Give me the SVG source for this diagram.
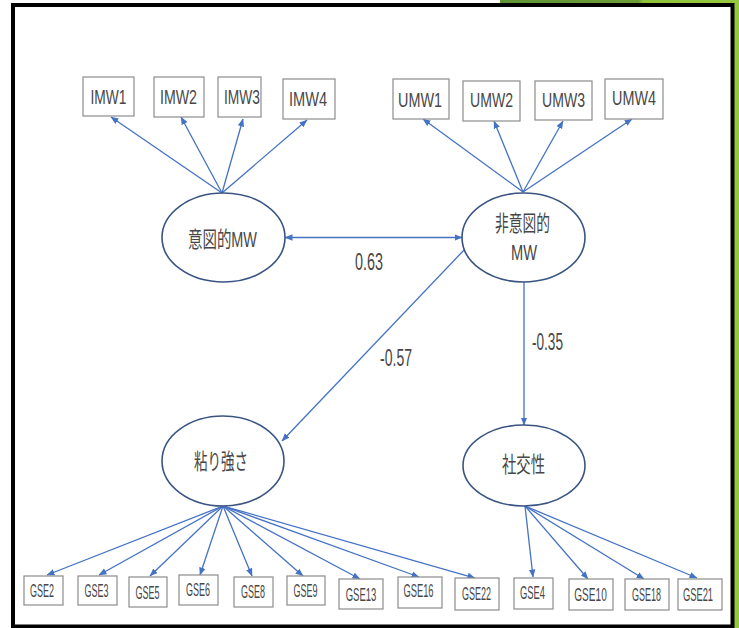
<svg xmlns="http://www.w3.org/2000/svg" width="739" height="628" viewBox="0 0 739 628">
<defs>
<linearGradient id="green" x1="500" y1="0" x2="739" y2="0" gradientUnits="userSpaceOnUse">
<stop offset="0" stop-color="#5f9436"/>
<stop offset="0.58" stop-color="#6c9e38"/>
<stop offset="0.6" stop-color="#8fc33c"/>
<stop offset="1" stop-color="#96c83e"/>
</linearGradient>
<marker id="ah" markerUnits="userSpaceOnUse" markerWidth="8" markerHeight="8" viewBox="0 0 8 8" refX="7.5" refY="4" orient="auto-start-reverse">
<path d="M0,0.8 L8,4 L0,7.2 Z" fill="#4472c4"/>
</marker>
<style>
.box{fill:#fff;stroke:#8c8c8c;stroke-width:1.2}
.ell{fill:#fff;stroke:#3a5482;stroke-width:1.6}
.t{font-family:"Liberation Sans Narrow","Liberation Sans","Noto Sans CJK JP",sans-serif;fill:#474747;text-anchor:start}
.top{font-size:21px}
.gse{font-size:18px;text-anchor:middle}
.lat{font-size:22px}
.num{font-size:23px}
.c{stroke:#4472c4;stroke-width:1.3;fill:none;marker-end:url(#ah)}
</style>
</defs>
<rect x="500" y="0" width="239" height="628" fill="url(#green)"/>
<rect x="13" y="5" width="719.5" height="621.5" fill="#fff" stroke="#000" stroke-width="4"/>

<g id="connectors">
<path class="c" d="M222,193 L111,117"/>
<path class="c" d="M222,193 L181,117"/>
<path class="c" d="M222,193 L243,119"/>
<path class="c" d="M222,193 L307,120"/>
<path class="c" d="M523,192 L423,119"/>
<path class="c" d="M523,192 L494,121"/>
<path class="c" d="M523,192 L563,121"/>
<path class="c" d="M523,192 L632,119"/>
<path class="c" d="M285,237.5 L462,237.5" style="marker-start:url(#ah)"/>
<path class="c" d="M465,249 L282,441"/>
<path class="c" d="M524,282 L524,425"/>
<path class="c" d="M223,506 L47,575"/>
<path class="c" d="M223,506 L99,575"/>
<path class="c" d="M223,506 L150,576"/>
<path class="c" d="M223,506 L200,575"/>
<path class="c" d="M223,506 L252,576"/>
<path class="c" d="M223,506 L303,576"/>
<path class="c" d="M223,506 L360,579"/>
<path class="c" d="M223,506 L419,577"/>
<path class="c" d="M223,506 L475,578"/>
<path class="c" d="M525,506 L533,577"/>
<path class="c" d="M525,506 L588,579"/>
<path class="c" d="M525,506 L644,579"/>
<path class="c" d="M525,506 L697,578"/>
<text class="t num" x="355" y="270" textLength="28" lengthAdjust="spacingAndGlyphs">0.63</text>
<text class="t num" x="380" y="366" textLength="32" lengthAdjust="spacingAndGlyphs">-0.57</text>
<text class="t num" x="532" y="350" textLength="31" lengthAdjust="spacingAndGlyphs">-0.35</text>
</g>

<g id="IMW1"><rect class="box" x="83" y="77" width="51" height="39"/><text class="t top" x="90.5" y="104" textLength="36" lengthAdjust="spacingAndGlyphs">IMW1</text></g>
<g id="IMW2"><rect class="box" x="154" y="77" width="50" height="40"/><text class="t top" x="160" y="104" textLength="37" lengthAdjust="spacingAndGlyphs">IMW2</text></g>
<g id="IMW3"><rect class="box" x="218" y="77" width="43" height="40"/><text class="t top" x="224" y="104" textLength="36" lengthAdjust="spacingAndGlyphs">IMW3</text></g>
<g id="IMW4"><rect class="box" x="283" y="79" width="52" height="40"/><text class="t top" x="289" y="106" textLength="38" lengthAdjust="spacingAndGlyphs">IMW4</text></g>
<g id="UMW1"><rect class="box" x="393" y="79" width="56" height="40"/><text class="t top" x="398" y="107" textLength="44" lengthAdjust="spacingAndGlyphs">UMW1</text></g>
<g id="UMW2"><rect class="box" x="463" y="81" width="57" height="40"/><text class="t top" x="470" y="107" textLength="43" lengthAdjust="spacingAndGlyphs">UMW2</text></g>
<g id="UMW3"><rect class="box" x="535" y="81" width="57" height="39"/><text class="t top" x="542" y="107" textLength="43" lengthAdjust="spacingAndGlyphs">UMW3</text></g>
<g id="UMW4"><rect class="box" x="605" y="79" width="58" height="40"/><text class="t top" x="612" y="105" textLength="44" lengthAdjust="spacingAndGlyphs">UMW4</text></g>

<g id="intentional"><ellipse class="ell" cx="223.5" cy="237.5" rx="61.5" ry="44.5"/><text class="t lat" x="188" y="247" textLength="69" lengthAdjust="spacingAndGlyphs">意図的MW</text></g>
<g id="unintentional"><ellipse class="ell" cx="523.5" cy="237.5" rx="61.5" ry="44.5"/><text class="t lat" x="495" y="231" textLength="55" lengthAdjust="spacingAndGlyphs">非意図的</text><text class="t lat" x="511" y="260" textLength="26" lengthAdjust="spacingAndGlyphs">MW</text></g>
<g id="persistence"><ellipse class="ell" cx="223" cy="461" rx="61" ry="45"/><text class="t lat" x="194" y="469" textLength="54" lengthAdjust="spacingAndGlyphs">粘り強さ</text></g>
<g id="sociability"><ellipse class="ell" cx="524" cy="465.5" rx="61" ry="40.5"/><text class="t lat" x="502" y="472" textLength="43" lengthAdjust="spacingAndGlyphs">社交性</text></g>

<g id="GSE2"><rect class="box" x="24" y="576" width="39" height="29"/><text class="t gse" transform="translate(42,597) scale(0.5,1)">GSE2</text></g>
<g id="GSE3"><rect class="box" x="78" y="576" width="39" height="29"/><text class="t gse" transform="translate(96.5,597) scale(0.5,1)">GSE3</text></g>
<g id="GSE5"><rect class="box" x="129" y="577" width="38" height="30"/><text class="t gse" transform="translate(147.5,599) scale(0.5,1)">GSE5</text></g>
<g id="GSE6"><rect class="box" x="179" y="575" width="39" height="30"/><text class="t gse" transform="translate(198,596) scale(0.5,1)">GSE6</text></g>
<g id="GSE8"><rect class="box" x="234" y="577" width="39" height="30"/><text class="t gse" transform="translate(253,598) scale(0.5,1)">GSE8</text></g>
<g id="GSE9"><rect class="box" x="287" y="576" width="38" height="29"/><text class="t gse" transform="translate(305.5,597) scale(0.5,1)">GSE9</text></g>
<g id="GSE13"><rect class="box" x="339" y="579" width="44" height="30"/><text class="t gse" transform="translate(361,601) scale(0.53,1)">GSE13</text></g>
<g id="GSE16"><rect class="box" x="398" y="577" width="44" height="31"/><text class="t gse" transform="translate(418.5,597) scale(0.52,1)">GSE16</text></g>
<g id="GSE22"><rect class="box" x="455" y="578" width="44" height="32"/><text class="t gse" transform="translate(476.5,600) scale(0.5,1)">GSE22</text></g>
<g id="GSE4"><rect class="box" x="514" y="578" width="39" height="31"/><text class="t gse" transform="translate(532.5,599) scale(0.52,1)">GSE4</text></g>
<g id="GSE10"><rect class="box" x="569" y="579" width="44" height="31"/><text class="t gse" transform="translate(590.5,601) scale(0.56,1)">GSE10</text></g>
<g id="GSE18"><rect class="box" x="625" y="579" width="44" height="31"/><text class="t gse" transform="translate(646.5,601) scale(0.5,1)">GSE18</text></g>
<g id="GSE21"><rect class="box" x="678" y="579" width="44" height="31"/><text class="t gse" transform="translate(698,601) scale(0.52,1)">GSE21</text></g>
</svg>
